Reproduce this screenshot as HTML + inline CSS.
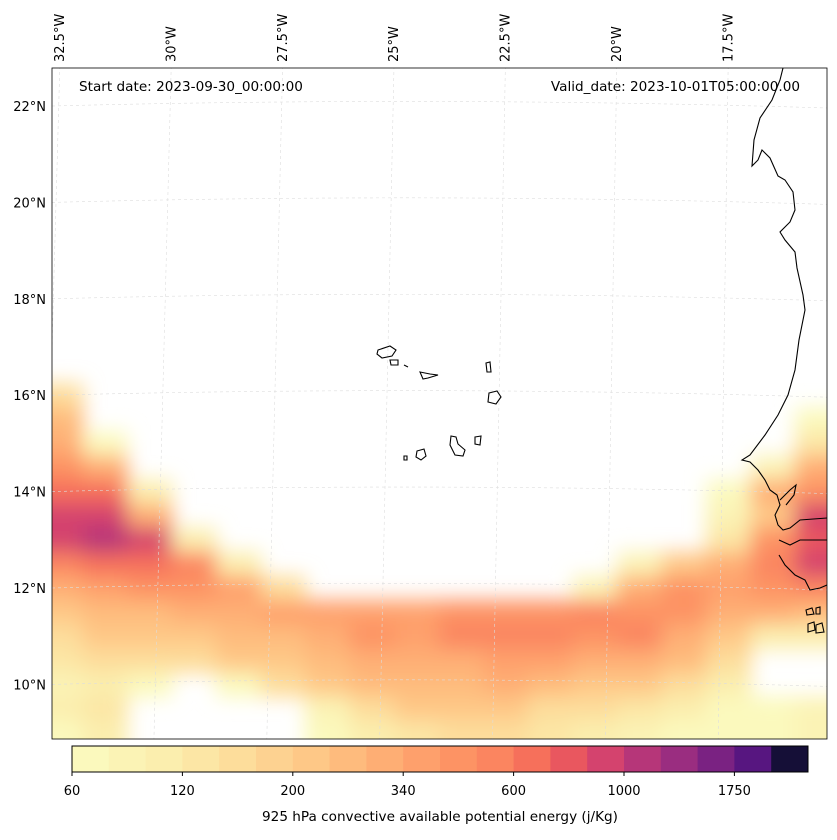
<!DOCTYPE html>
<html><head><meta charset="utf-8">
<style>
body{margin:0;background:#fff;font-family:"DejaVu Sans","Liberation Sans",sans-serif;}
svg text{font-family:"DejaVu Sans","Liberation Sans",sans-serif;fill:#000;}
</style></head>
<body>
<svg id="chart" width="837" height="836" viewBox="0 0 837 836" xmlns="http://www.w3.org/2000/svg">
<defs>
<clipPath id="mapclip"><rect x="52" y="68" width="775" height="671"/></clipPath>
<filter id="smooth" filterUnits="userSpaceOnUse" x="0" y="0" width="900" height="900"><feGaussianBlur stdDeviation="10"/></filter>
</defs>
<rect x="0" y="0" width="837" height="836" fill="#fff"/>
<g clip-path="url(#mapclip)"><g id="field" filter="url(#smooth)"></g></g>
<g id="grid" clip-path="url(#mapclip)"></g>
<g id="coast" clip-path="url(#mapclip)" fill="none" stroke="#000" stroke-width="1.1">
<path d="M783,68 L780,80 L772,100 L760,118 L754,140 L752,166 L758,160 L762,150 L770,158 L778,176 L785,180 L793,192 L795,210 L790,222 L780,232 L785,240 L795,252 L797,268 L803,295 L805,310 L799,340 L795,370 L788,395 L778,415 L765,435 L750,455 L742,460 L750,462 L758,470 L765,480 L770,490 L777,495 L780,505 L775,515 L778,525 L783,530 L790,528 L800,520 L827,518 M779,540 L790,545 L800,540 L827,540 M779,555 L785,565 L795,575 L805,580 L810,590 L820,588 L827,585"/>
<path d="M780,500 L790,490 L796,485 L794,495 L786,505"/>
<path d="M378,350 L390,346 L396,350 L392,356 L382,358 L377,354 Z"/>
<path d="M390,360 L398,360 L398,365 L391,365 Z"/>
<path d="M404,365 L408,367"/>
<path d="M420,372 L430,374 L438,375 L428,378 L423,379 Z"/>
<path d="M486,363 L490,362 L491,372 L487,372 Z"/>
<path d="M489,393 L497,391 L501,397 L496,404 L488,402 Z"/>
<path d="M475,437 L481,436 L480,445 L475,444 Z"/>
<path d="M451,436 L456,437 L458,444 L465,450 L463,456 L455,455 L450,445 Z"/>
<path d="M417,451 L424,449 L426,456 L421,460 L416,457 Z"/>
<path d="M404,456 L407,456 L407,460 L404,460 Z"/>
<path d="M806,610 L812,608 L814,614 L807,615 Z M816,608 L820,607 L820,614 L816,614 Z M808,624 L814,622 L815,630 L808,632 Z M816,625 L822,623 L824,632 L816,633 Z"/>
</g>
<rect x="52" y="68" width="775" height="671" fill="none" stroke="#000" stroke-width="0.8"/>
<g id="labels"></g>
<text x="79" y="91" font-size="13.6">Start date: 2023-09-30_00:00:00</text>
<text x="800" y="91" font-size="13.6" text-anchor="end">Valid_date: 2023-10-01T05:00:00.00</text>
<g id="cbar"></g>
<text x="440" y="821" font-size="13.6" text-anchor="middle">925 hPa convective available potential energy (j/Kg)</text>
</svg>
<script>
const NS="http://www.w3.org/2000/svg";
// data
const levels=[60,80,100,120,150,175,200,250,300,340,400,500,600,700,800,1000,1250,1500,1750,2000,2500];
const levelColors=["#fbf9bd","#fbf3b5","#fbeeae","#fce6a5","#fddd9b","#fdd291","#fec887","#febb7d","#feae74","#fea06c","#fd9364","#fb8560","#f6705b","#e9575f","#d4436e","#b63679","#9a2d80","#7a2282","#571680","#150f37"];
const tickValues=[60,120,200,340,600,1000,1750];
const gridLons=[-32.5,-31.5,-30.5,-29.5,-28.5,-27.5,-26.5,-25.5,-24.5,-23.5,-22.5,-21.5,-20.5,-19.5,-18.5,-17.5,-16.5,-15.5];
const gridLats=[16,15.5,15,14.5,14,13.5,13,12.5,12,11.5,11,10.5,10,9.5,9];
const capeRows=[
[150,0,0,0,0,0,0,0,0,0,0,0,0,0,0,0,0,0],
[250,0,0,0,0,0,0,0,0,0,0,0,0,0,0,0,0,60],
[300,60,0,0,0,0,0,0,0,0,0,0,0,0,0,0,0,120],
[400,300,0,0,0,0,0,0,0,0,0,0,0,0,0,0,80,300],
[600,600,100,0,0,0,0,0,0,0,0,0,0,0,0,60,300,400],
[800,900,300,0,0,0,0,0,0,0,0,0,0,0,0,80,200,900],
[800,1000,800,100,0,0,0,0,0,0,0,0,0,0,0,120,400,700],
[500,600,600,500,100,0,0,0,0,0,0,0,0,80,200,300,500,800],
[300,350,400,400,350,150,0,0,0,0,0,0,80,300,400,350,400,500],
[200,250,250,300,300,350,350,350,350,400,400,450,500,450,400,300,300,250],
[150,200,200,200,250,250,300,400,350,500,500,550,400,500,300,200,100,100],
[120,150,150,150,200,200,250,300,300,300,350,350,300,300,250,150,0,0],
[80,100,60,0,60,150,200,250,250,250,300,250,200,200,150,100,0,0],
[100,120,0,0,0,0,80,150,200,200,200,150,150,120,100,60,60,80],
[60,100,0,0,0,0,60,100,120,150,150,120,100,80,60,60,60,80]
];
const lonTicks=[-32.5,-30,-27.5,-25,-22.5,-20,-17.5];
const latTicks=[22,20,18,16,14,12,10];
// axis functions
const xLon=l=>60+(l+32.5)*44.55;
const yLat=a=>106+(22-a)*48.2;
function colorFor(v){for(let i=levels.length-2;i>=0;i--){if(v>=levels[i])return levelColors[i];}return null;}
const field=document.getElementById('field');
gridLats.forEach((lat,r)=>{gridLons.forEach((lon,c)=>{
  const v=capeRows[r][c];const col=colorFor(v);if(!col)return;
  const rc=document.createElementNS(NS,'rect');
  const x0=xLon(lon-0.5),x1=xLon(lon+0.5),y0=yLat(lat+0.25),y1=yLat(lat-0.25);
  const ex0=c===0?30:0, ex1=c===gridLons.length-1?30:0, ey=r===gridLats.length-1?30:0;
  rc.setAttribute('x',x0-ex0);rc.setAttribute('y',y0);
  rc.setAttribute('width',x1-x0+1+ex0+ex1);
  rc.setAttribute('height',y1-y0+1+ey);
  rc.setAttribute('fill',col);
  
  
  field.appendChild(rc);
});});
// graticule
const grid=document.getElementById('grid');
lonTicks.forEach(l=>{
  const ln=document.createElementNS(NS,'line');
  const xt=xLon(l);
  ln.setAttribute('x1',xt);ln.setAttribute('y1',60);ln.setAttribute('x2',xt-14+(l+24)*0.6);ln.setAttribute('y2',745);
  ln.setAttribute('stroke','#ddd');ln.setAttribute('stroke-width','0.6');ln.setAttribute('stroke-dasharray','3,3');
  
  
  grid.appendChild(ln);
});
latTicks.forEach(a=>{
  const p=document.createElementNS(NS,'path');
  const y=yLat(a);
  p.setAttribute('d',`M52,${y} Q440,${y-10} 827,${y+2}`);
  p.setAttribute('fill','none');p.setAttribute('stroke','#ddd');p.setAttribute('stroke-width','0.6');p.setAttribute('stroke-dasharray','3,3');
  
  
  grid.appendChild(p);
});
// labels
const lab=document.getElementById('labels');
lonTicks.forEach(l=>{
  const t=document.createElementNS(NS,'text');
  const x=xLon(l)+4;
  t.setAttribute('transform',`translate(${x},62) rotate(-90)`);
  t.setAttribute('font-size','13');
  t.textContent=Math.abs(l)+'°W';
  
  
  lab.appendChild(t);
});
latTicks.forEach(a=>{
  const t=document.createElementNS(NS,'text');
  t.setAttribute('x',46);t.setAttribute('y',yLat(a)+5);t.setAttribute('text-anchor','end');t.setAttribute('font-size','13');
  t.textContent=a+'°N';
  
  
  lab.appendChild(t);
});
// colorbar
const cb=document.getElementById('cbar');
const cbX=72,cbW=736,cbY=746,cbH=26,nSeg=levels.length-1,segW=cbW/nSeg;
for(let i=0;i<nSeg;i++){
  const r=document.createElementNS(NS,'rect');
  r.setAttribute('x',cbX+i*segW);r.setAttribute('y',cbY);r.setAttribute('width',segW+0.5);r.setAttribute('height',cbH);
  r.setAttribute('fill',levelColors[i]);
  
  
  cb.appendChild(r);
}
const fr=document.createElementNS(NS,'rect');
fr.setAttribute('x',cbX);fr.setAttribute('y',cbY);fr.setAttribute('width',cbW);fr.setAttribute('height',cbH);
fr.setAttribute('fill','none');fr.setAttribute('stroke','#000');fr.setAttribute('stroke-width','1');


cb.appendChild(fr);
tickValues.forEach(v=>{
  const i=levels.indexOf(v);const x=cbX+i*segW;
  const tk=document.createElementNS(NS,'line');
  tk.setAttribute('x1',x);tk.setAttribute('x2',x);tk.setAttribute('y1',cbY+cbH);tk.setAttribute('y2',cbY+cbH+4);tk.setAttribute('stroke','#000');
  
  
  cb.appendChild(tk);
  const t=document.createElementNS(NS,'text');
  t.setAttribute('x',x);t.setAttribute('y',cbY+cbH+23);t.setAttribute('text-anchor','middle');t.setAttribute('font-size','13');
  t.textContent=v;
  
  
  cb.appendChild(t);
});
</script>
</body></html>
